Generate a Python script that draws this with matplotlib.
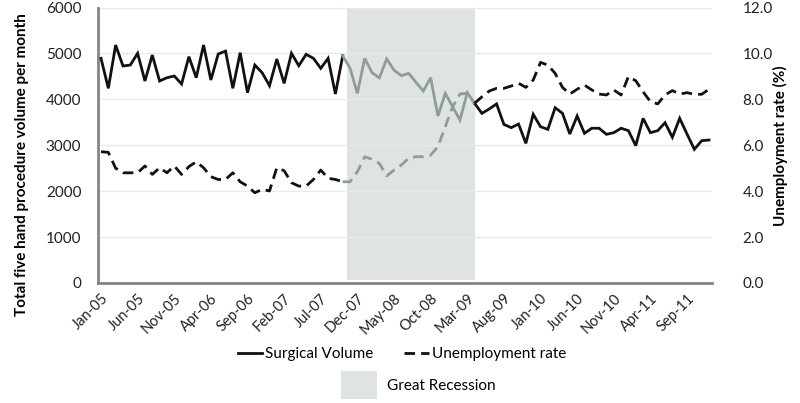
import matplotlib
matplotlib.use("Agg")
import matplotlib.pyplot as plt
from matplotlib.lines import Line2D
from matplotlib.patches import Patch

plt.rcParams['font.family'] = ['Lato', 'DejaVu Sans']

mon = ['Jan', 'Feb', 'Mar', 'Apr', 'May', 'Jun', 'Jul', 'Aug', 'Sep', 'Oct', 'Nov', 'Dec']
months = [f"{m}-{y:02d}" for y in range(5, 12) for m in mon]

surgical_volume = [
    4893, 4240, 5183, 4726, 4747, 5002, 4399, 4965, 4399, 4471, 4508, 4334,
    4929, 4471, 5183, 4421, 4987, 5050, 4240, 5016, 4145, 4747, 4580, 4297,
    4878, 4348, 5002, 4732, 4980, 4893, 4675, 4893, 4116, 4950, 4675, 4131,
    4893, 4580, 4470, 4878, 4638, 4515, 4566, 4370, 4181, 4470, 3637, 4131,
    3840, 3550, 4145, 3913, 3695, 3790, 3900, 3455, 3383, 3462, 3042, 3674,
    3404, 3346, 3818, 3695, 3245, 3637, 3260, 3370, 3370, 3238, 3274, 3370,
    3318, 2991, 3586, 3274, 3318, 3491, 3173, 3586, 3245, 2911, 3099, 3114,
]

unemployment = [
    5.72, 5.69, 5.00, 4.80, 4.80, 4.80, 5.10, 4.73, 5.02, 4.80, 5.10, 4.73,
    5.07, 5.28, 5.02, 4.63, 4.51, 4.51, 4.80, 4.41, 4.22, 3.93, 4.08, 4.01,
    5.02, 4.89, 4.37, 4.22, 4.22, 4.51, 4.92, 4.56, 4.51, 4.41, 4.41, 4.85,
    5.50, 5.39, 5.21, 4.66, 4.92, 5.14, 5.43, 5.50, 5.50, 5.57, 5.94, 6.81,
    7.68, 8.23, 8.26, 7.83, 8.11, 8.36, 8.48, 8.48, 8.58, 8.70, 8.52, 8.84,
    9.61, 9.49, 9.13, 8.52, 8.23, 8.44, 8.62, 8.41, 8.23, 8.19, 8.41, 8.19,
    8.99, 8.81, 8.33, 7.90, 7.80, 8.19, 8.38, 8.23, 8.29, 8.22, 8.22, 8.44,
]

left_ticks = [0, 1000, 2000, 3000, 4000, 5000, 6000]
right_ticks = [0.0, 2.0, 4.0, 6.0, 8.0, 10.0, 12.0]
tick_every = 5
gray_from, gray_to = 'Oct-07', 'Apr-09'      # highlighted stretch of the lines
shade_from, shade_to = 33.56, 51.0            # Great Recession band (category units)

BLACK = '#111111'
GREY_LINE = '#8e9c9c'
BAND = '#dfe3e3'
AXIS = '#858585'
GRID = '#e9e9e9'

fig = plt.figure(figsize=(8.0, 4.03), dpi=100)
ax = fig.add_axes([98/800, 1-283/403, (712-98)/800, (283-7.5)/403])
ax2 = ax.twinx()

x = list(range(len(months)))
i0, i1 = months.index(gray_from), months.index(gray_to)

ax.axvspan(shade_from, shade_to, ymin=0.01, ymax=1.0, color=BAND, lw=0, zorder=0)

for a, b, c in [(0, i0, BLACK), (i0, i1, GREY_LINE), (i1, len(x)-1, BLACK)]:
    ax.plot(x[a:b+1], surgical_volume[a:b+1], color=c, lw=2.0, zorder=3,
            solid_joinstyle='miter')
    ax2.plot(x[a:b+1], unemployment[a:b+1], color=c, lw=2.0, zorder=3,
             dashes=(3.8, 2.2))

ax.set_xlim(-0.41, 83.41)
ax.set_ylim(0, 6000)
ax2.set_ylim(0, 12)
ax.set_yticks(left_ticks)
ax2.set_yticks(right_ticks)
ax2.set_yticklabels([f"{v:.1f}" for v in right_ticks])
ax.set_xticks(x[::tick_every])
ax.set_xticklabels(months[::tick_every], rotation=45, ha='right', rotation_mode='anchor',
                   fontsize=10.5, color='#222222')
ax.tick_params(axis='x', length=0, pad=6)
ax.tick_params(axis='y', length=0, labelsize=11, colors='#222222', pad=12)
ax2.tick_params(axis='y', length=0, labelsize=11, colors='#222222', pad=22)

ax.grid(axis='y', color=GRID, lw=1.0, zorder=0)
ax.set_axisbelow(True)
for s in ['top', 'right']:
    ax.spines[s].set_visible(False)
for s in ['top', 'right', 'left', 'bottom']:
    ax2.spines[s].set_visible(False)
ax.spines['left'].set_color(AXIS)
ax.spines['bottom'].set_color(AXIS)
ax.spines['left'].set_linewidth(2.0)
ax.spines['bottom'].set_linewidth(2.0)

ax.set_ylabel('Total five hand procedure volume per month', fontsize=11,
              fontweight='bold')
ax.yaxis.set_label_coords(-0.113, 0.43)
ax2.set_ylabel('Unemployment rate (%)', fontsize=11, fontweight='bold')
ax2.yaxis.set_label_coords(1.1, 0.5)

h1 = [Line2D([], [], color=BLACK, lw=2), Line2D([], [], color=BLACK, lw=2, dashes=(3.8, 2.2))]
leg1 = fig.legend(h1, ['Surgical Volume', 'Unemployment rate'], loc='center',
                  bbox_to_anchor=(402/800, 1-354/403), ncol=2, frameon=False,
                  fontsize=11, handlelength=1.6, handletextpad=0.2, columnspacing=2.0)
h2 = [Patch(facecolor=BAND, edgecolor='none')]
leg2 = fig.legend(h2, ['Great Recession'], loc='center',
                  bbox_to_anchor=(418/800, 1-385/403), frameon=False, fontsize=11,
                  handlelength=2.4, handleheight=2.4, handletextpad=0.6)

fig.savefig('out.png', dpi=100)
